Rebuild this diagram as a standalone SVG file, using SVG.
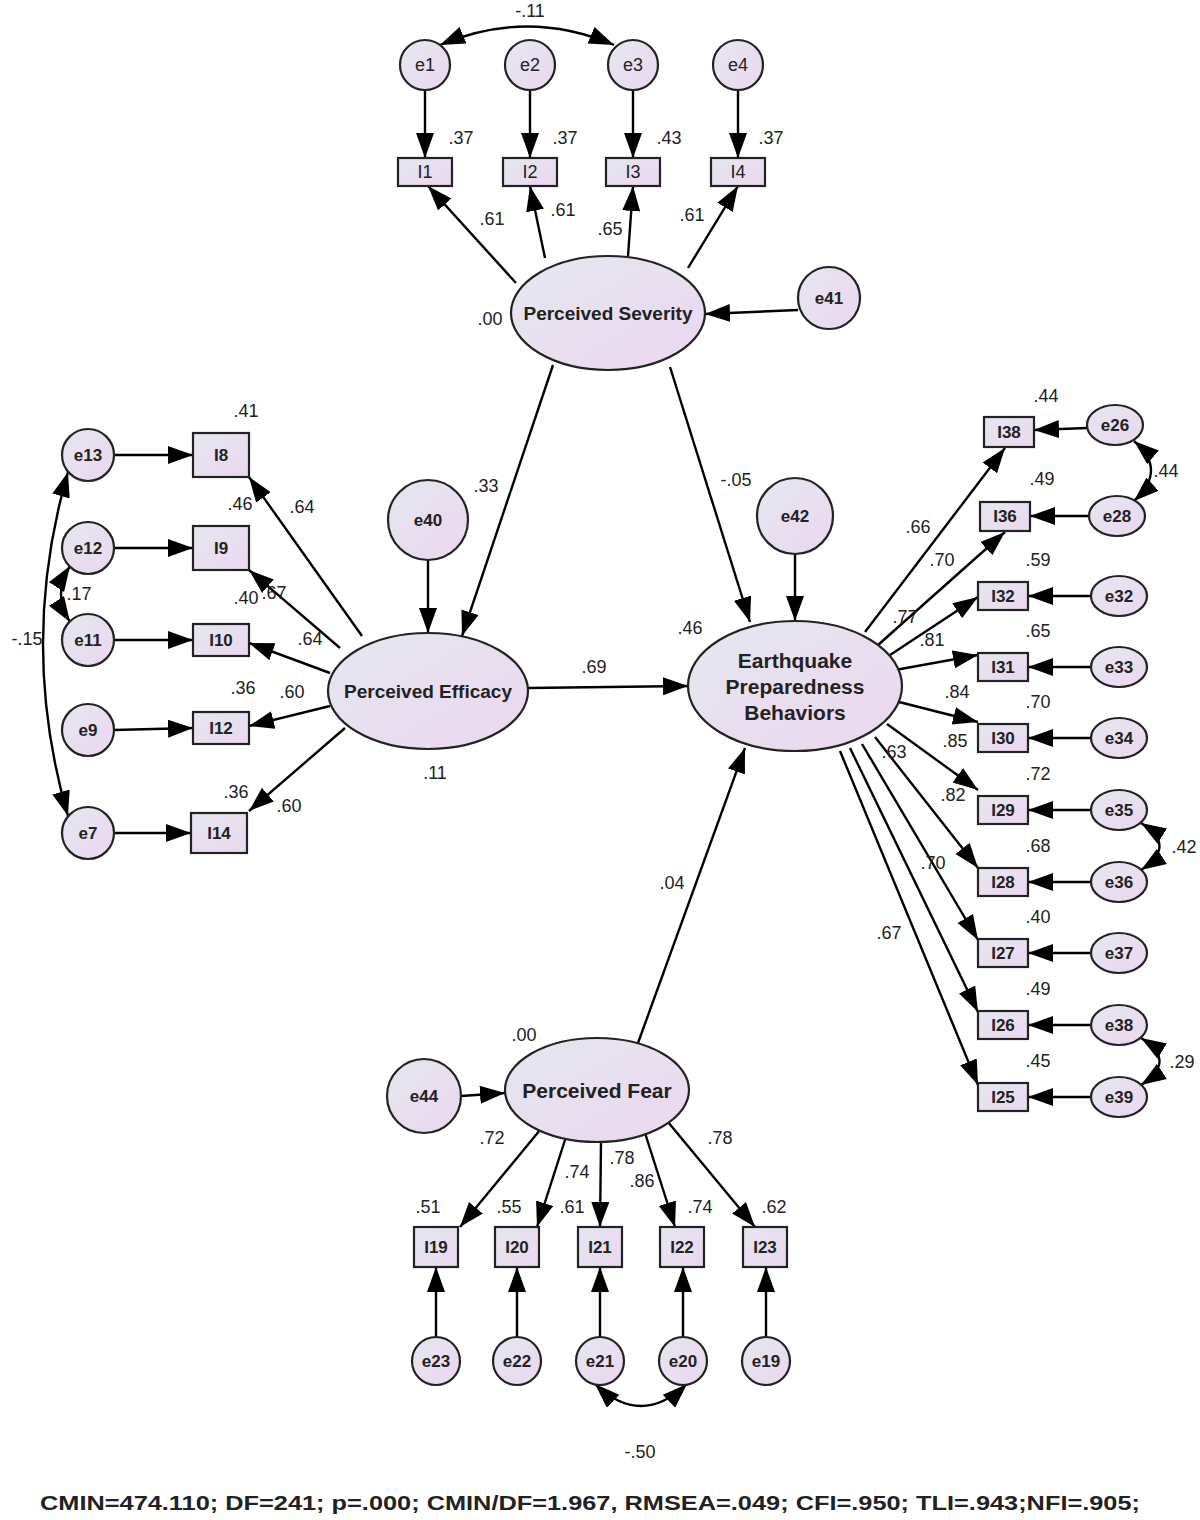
<svg xmlns="http://www.w3.org/2000/svg" width="1200" height="1520" viewBox="0 0 1200 1520">
<defs>
<linearGradient id="g" x1="0" y1="0" x2="1" y2="1"><stop offset="0" stop-color="#e4e7ef"/><stop offset="1" stop-color="#ecd6f0"/></linearGradient>
<marker id="a" markerUnits="userSpaceOnUse" markerWidth="28" markerHeight="20" refX="25" refY="9" orient="auto-start-reverse"><path d="M0,0 L25,9 L0,18 z" fill="#000"/></marker>
<style>
.n{fill:url(#g);stroke:#222;stroke-width:2.2}
.c path,.c line{stroke:#000;stroke-width:2.4;fill:none;marker-end:url(#a)}
.c .b{marker-start:url(#a)}
text{font-family:"Liberation Sans",Arial,sans-serif;font-size:18px;fill:#222}
.t{text-anchor:middle;dominant-baseline:central}
.bd{font-weight:bold;font-size:17px}
.nm{font-size:18px}
.big{font-weight:bold;font-size:19px}
.xl{font-weight:bold;font-size:21px}
.ft{font-weight:bold;font-size:20px}
</style>
</defs>
<rect width="1200" height="1520" fill="#fff"/>
<g class="c" id="connectors">
<line x1="425" y1="90" x2="425" y2="158"/><line x1="530" y1="90" x2="530" y2="158"/><line x1="633" y1="90" x2="633" y2="158"/><line x1="738" y1="90" x2="738" y2="158"/>
<path class="b" d="M440,45 Q527,8 614,45"/>
<line x1="516" y1="283" x2="428" y2="186"/><line x1="545" y1="258" x2="530" y2="186"/><line x1="628" y1="256" x2="633" y2="186"/><line x1="688" y1="268" x2="738" y2="186"/>
<line x1="798" y1="310" x2="705" y2="314"/>
<line x1="553" y1="365" x2="462" y2="636"/><line x1="670" y1="367" x2="750" y2="622"/>
<line x1="428" y1="560" x2="428" y2="633"/><line x1="528" y1="688" x2="688" y2="686"/>
<line x1="795" y1="554" x2="795" y2="621"/><line x1="638" y1="1043" x2="745" y2="748"/>
<line x1="461" y1="1096" x2="505" y2="1093"/>
<line x1="362" y1="636" x2="249" y2="477"/><line x1="340" y1="648" x2="249" y2="570"/><line x1="330" y1="673" x2="249" y2="643"/><line x1="330" y1="706" x2="249" y2="726"/><line x1="345" y1="728" x2="249" y2="811"/>
<line x1="114" y1="455" x2="193" y2="455"/><line x1="114" y1="548" x2="193" y2="548"/><line x1="114" y1="640" x2="193" y2="640"/><line x1="114" y1="730" x2="193" y2="728"/><line x1="114" y1="833" x2="191" y2="833"/>
<path class="b" d="M68,472 Q18,644 68,816"/><path class="b" d="M70,566 Q52,594 70,622"/>
<line x1="865" y1="632" x2="1005" y2="448"/><line x1="878" y1="645" x2="1005" y2="532"/><line x1="887" y1="657" x2="978" y2="597"/><line x1="895" y1="670" x2="978" y2="655"/><line x1="899" y1="702" x2="978" y2="722"/><line x1="887" y1="724" x2="978" y2="790"/><line x1="875" y1="737" x2="978" y2="868"/><line x1="862" y1="744" x2="978" y2="940"/><line x1="850" y1="748" x2="978" y2="1012"/><line x1="840" y1="751" x2="978" y2="1085"/>
<line x1="1087" y1="428" x2="1034" y2="430"/><line x1="1089" y1="516" x2="1030" y2="516"/><line x1="1091" y1="596" x2="1028" y2="596"/><line x1="1091" y1="667" x2="1028" y2="667"/><line x1="1091" y1="738" x2="1028" y2="738"/><line x1="1091" y1="810" x2="1028" y2="810"/><line x1="1091" y1="882" x2="1028" y2="882"/><line x1="1091" y1="953" x2="1028" y2="953"/><line x1="1091" y1="1025" x2="1028" y2="1025"/><line x1="1091" y1="1097" x2="1028" y2="1097"/>
<path class="b" d="M1134,441 Q1168,470 1134,501"/><path class="b" d="M1141,823 Q1178,846 1141,870"/><path class="b" d="M1141,1038 Q1178,1061 1141,1085"/>
<line x1="540" y1="1130" x2="460" y2="1227"/><line x1="565" y1="1140" x2="537" y2="1227"/><line x1="601" y1="1142" x2="600" y2="1227"/><line x1="645" y1="1133" x2="675" y2="1227"/><line x1="668" y1="1122" x2="755" y2="1227"/>
<line x1="436" y1="1337" x2="436" y2="1267"/><line x1="517" y1="1337" x2="517" y2="1267"/><line x1="600" y1="1337" x2="600" y2="1267"/><line x1="683" y1="1337" x2="683" y2="1267"/><line x1="766" y1="1337" x2="766" y2="1267"/>
<path class="b" d="M595,1384 Q641,1428 687,1384"/>
</g>
<g id="e1"><circle class="n" cx="425" cy="65" r="25"/><text class="t nm" x="425" y="65">e1</text></g>
<g id="e2"><circle class="n" cx="530" cy="65" r="25"/><text class="t nm" x="530" y="65">e2</text></g>
<g id="e3"><circle class="n" cx="633" cy="65" r="25"/><text class="t nm" x="633" y="65">e3</text></g>
<g id="e4"><circle class="n" cx="738" cy="65" r="25"/><text class="t nm" x="738" y="65">e4</text></g>
<g id="I1"><rect class="n" x="398" y="158" width="54" height="28"/><text class="t nm" x="425" y="172">I1</text></g>
<g id="I2"><rect class="n" x="503" y="158" width="54" height="28"/><text class="t nm" x="530" y="172">I2</text></g>
<g id="I3"><rect class="n" x="606" y="158" width="54" height="28"/><text class="t nm" x="633" y="172">I3</text></g>
<g id="I4"><rect class="n" x="711" y="158" width="54" height="28"/><text class="t nm" x="738" y="172">I4</text></g>
<g id="PS"><ellipse class="n" cx="608" cy="313" rx="97" ry="57"/><text class="t big" x="608" y="313">Perceived Severity</text></g>
<g id="e41"><circle class="n" cx="829" cy="298" r="31"/><text class="t bd" x="829" y="298">e41</text></g>
<g id="PE"><ellipse class="n" cx="428" cy="691" rx="100" ry="58"/><text class="t big" x="428" y="691">Perceived Efficacy</text></g>
<g id="e40"><circle class="n" cx="428" cy="520" r="40"/><text class="t bd" x="428" y="520">e40</text></g>
<g id="I8"><rect class="n" x="193" y="433" width="56" height="44"/><text class="t bd" x="221" y="455">I8</text></g>
<g id="I9"><rect class="n" x="193" y="526" width="56" height="44"/><text class="t bd" x="221" y="548">I9</text></g>
<g id="I10"><rect class="n" x="193" y="624" width="56" height="32"/><text class="t bd" x="221" y="640">I10</text></g>
<g id="I12"><rect class="n" x="193" y="712" width="56" height="32"/><text class="t bd" x="221" y="728">I12</text></g>
<g id="I14"><rect class="n" x="191" y="813" width="56" height="40"/><text class="t bd" x="219" y="833">I14</text></g>
<g id="e13"><circle class="n" cx="88" cy="455" r="26"/><text class="t bd" x="88" y="455">e13</text></g>
<g id="e12"><circle class="n" cx="88" cy="548" r="26"/><text class="t bd" x="88" y="548">e12</text></g>
<g id="e11"><circle class="n" cx="88" cy="640" r="26"/><text class="t bd" x="88" y="640">e11</text></g>
<g id="e9"><circle class="n" cx="88" cy="730" r="26"/><text class="t bd" x="88" y="730">e9</text></g>
<g id="e7"><circle class="n" cx="88" cy="833" r="26"/><text class="t bd" x="88" y="833">e7</text></g>
<g id="EPB"><ellipse class="n" cx="795" cy="686" rx="107" ry="65"/><text class="t xl" x="795" y="660">Earthquake</text><text class="t xl" x="795" y="686">Preparedness</text><text class="t xl" x="795" y="712">Behaviors</text></g>
<g id="e42"><circle class="n" cx="795" cy="516" r="38"/><text class="t bd" x="795" y="516">e42</text></g>
<g id="I38"><rect class="n" x="984" y="417" width="50" height="30"/><text class="t bd" x="1009" y="432">I38</text></g>
<g id="I36"><rect class="n" x="980" y="502" width="50" height="29"/><text class="t bd" x="1005" y="516">I36</text></g>
<g id="I32"><rect class="n" x="978" y="582" width="50" height="28"/><text class="t bd" x="1003" y="596">I32</text></g>
<g id="I31"><rect class="n" x="978" y="653" width="50" height="28"/><text class="t bd" x="1003" y="667">I31</text></g>
<g id="I30"><rect class="n" x="978" y="724" width="50" height="28"/><text class="t bd" x="1003" y="738">I30</text></g>
<g id="I29"><rect class="n" x="978" y="796" width="50" height="28"/><text class="t bd" x="1003" y="810">I29</text></g>
<g id="I28"><rect class="n" x="978" y="868" width="50" height="28"/><text class="t bd" x="1003" y="882">I28</text></g>
<g id="I27"><rect class="n" x="978" y="939" width="50" height="28"/><text class="t bd" x="1003" y="953">I27</text></g>
<g id="I26"><rect class="n" x="978" y="1011" width="50" height="28"/><text class="t bd" x="1003" y="1025">I26</text></g>
<g id="I25"><rect class="n" x="978" y="1083" width="50" height="28"/><text class="t bd" x="1003" y="1097">I25</text></g>
<g id="e26"><ellipse class="n" cx="1115" cy="425" rx="28" ry="20"/><text class="t bd" x="1115" y="425">e26</text></g>
<g id="e28"><ellipse class="n" cx="1117" cy="516" rx="28" ry="20"/><text class="t bd" x="1117" y="516">e28</text></g>
<g id="e32"><ellipse class="n" cx="1119" cy="596" rx="28" ry="20"/><text class="t bd" x="1119" y="596">e32</text></g>
<g id="e33"><ellipse class="n" cx="1119" cy="667" rx="28" ry="20"/><text class="t bd" x="1119" y="667">e33</text></g>
<g id="e34"><ellipse class="n" cx="1119" cy="738" rx="28" ry="20"/><text class="t bd" x="1119" y="738">e34</text></g>
<g id="e35"><ellipse class="n" cx="1119" cy="810" rx="28" ry="20"/><text class="t bd" x="1119" y="810">e35</text></g>
<g id="e36"><ellipse class="n" cx="1119" cy="882" rx="28" ry="20"/><text class="t bd" x="1119" y="882">e36</text></g>
<g id="e37"><ellipse class="n" cx="1119" cy="953" rx="28" ry="20"/><text class="t bd" x="1119" y="953">e37</text></g>
<g id="e38"><ellipse class="n" cx="1119" cy="1025" rx="28" ry="20"/><text class="t bd" x="1119" y="1025">e38</text></g>
<g id="e39"><ellipse class="n" cx="1119" cy="1097" rx="28" ry="20"/><text class="t bd" x="1119" y="1097">e39</text></g>
<g id="PF"><ellipse class="n" cx="597" cy="1090" rx="92" ry="52"/><text class="t xl" x="597" y="1090">Perceived Fear</text></g>
<g id="e44"><circle class="n" cx="424" cy="1096" r="37"/><text class="t bd" x="424" y="1096">e44</text></g>
<g id="I19"><rect class="n" x="414" y="1227" width="44" height="40"/><text class="t bd" x="436" y="1247">I19</text></g>
<g id="I20"><rect class="n" x="495" y="1227" width="44" height="40"/><text class="t bd" x="517" y="1247">I20</text></g>
<g id="I21"><rect class="n" x="578" y="1227" width="44" height="40"/><text class="t bd" x="600" y="1247">I21</text></g>
<g id="I22"><rect class="n" x="660" y="1227" width="44" height="40"/><text class="t bd" x="682" y="1247">I22</text></g>
<g id="I23"><rect class="n" x="743" y="1227" width="44" height="40"/><text class="t bd" x="765" y="1247">I23</text></g>
<g id="e23"><circle class="n" cx="436" cy="1361" r="24"/><text class="t bd" x="436" y="1361">e23</text></g>
<g id="e22"><circle class="n" cx="517" cy="1361" r="24"/><text class="t bd" x="517" y="1361">e22</text></g>
<g id="e21"><circle class="n" cx="600" cy="1361" r="24"/><text class="t bd" x="600" y="1361">e21</text></g>
<g id="e20"><circle class="n" cx="683" cy="1361" r="24"/><text class="t bd" x="683" y="1361">e20</text></g>
<g id="e19"><circle class="n" cx="766" cy="1361" r="24"/><text class="t bd" x="766" y="1361">e19</text></g>
<g id="labels">
<text class="t" x="530" y="11">-.11</text>
<text class="t" x="461" y="138">.37</text><text class="t" x="565" y="138">.37</text><text class="t" x="669" y="138">.43</text><text class="t" x="771" y="138">.37</text>
<text class="t" x="492" y="219">.61</text><text class="t" x="563" y="210">.61</text><text class="t" x="610" y="229">.65</text><text class="t" x="692" y="215">.61</text>
<text class="t" x="490" y="319">.00</text>
<text class="t" x="486" y="486">.33</text><text class="t" x="736" y="480">-.05</text>
<text class="t" x="594" y="667">.69</text><text class="t" x="690" y="628">.46</text><text class="t" x="435" y="773">.11</text>
<text class="t" x="246" y="411">.41</text><text class="t" x="302" y="507">.64</text>
<text class="t" x="240" y="504">.46</text><text class="t" x="274" y="593">.67</text>
<text class="t" x="246" y="598">.40</text><text class="t" x="310" y="639">.64</text>
<text class="t" x="243" y="688">.36</text><text class="t" x="292" y="692">.60</text>
<text class="t" x="236" y="792">.36</text><text class="t" x="289" y="806">.60</text>
<text class="t" x="27" y="639">-.15</text><text class="t" x="79" y="594">.17</text>
<text class="t" x="1046" y="396">.44</text><text class="t" x="1166" y="471">.44</text>
<text class="t" x="1042" y="479">.49</text><text class="t" x="1038" y="560">.59</text><text class="t" x="1038" y="631">.65</text><text class="t" x="1038" y="702">.70</text><text class="t" x="1038" y="774">.72</text><text class="t" x="1038" y="846">.68</text><text class="t" x="1038" y="917">.40</text><text class="t" x="1038" y="989">.49</text><text class="t" x="1038" y="1061">.45</text>
<text class="t" x="918" y="527">.66</text><text class="t" x="942" y="560">.70</text><text class="t" x="905" y="617">.77</text><text class="t" x="932" y="640">.81</text><text class="t" x="957" y="692">.84</text><text class="t" x="955" y="741">.85</text><text class="t" x="894" y="752">.63</text><text class="t" x="953" y="795">.82</text><text class="t" x="933" y="863">.70</text><text class="t" x="889" y="933">.67</text>
<text class="t" x="1184" y="847">.42</text><text class="t" x="1182" y="1062">.29</text>
<text class="t" x="672" y="883">.04</text>
<text class="t" x="524" y="1035">.00</text>
<text class="t" x="492" y="1138">.72</text><text class="t" x="577" y="1172">.74</text><text class="t" x="622" y="1158">.78</text><text class="t" x="642" y="1181">.86</text><text class="t" x="720" y="1138">.78</text>
<text class="t" x="428" y="1207">.51</text><text class="t" x="509" y="1207">.55</text><text class="t" x="572" y="1207">.61</text><text class="t" x="700" y="1207">.74</text><text class="t" x="774" y="1207">.62</text>
<text class="t" x="640" y="1452">-.50</text>
<text class="t ft" x="590" y="1503" textLength="1100" lengthAdjust="spacingAndGlyphs">CMIN=474.110; DF=241; p=.000; CMIN/DF=1.967, RMSEA=.049; CFI=.950; TLI=.943;NFI=.905;</text>
</g>
</svg>
